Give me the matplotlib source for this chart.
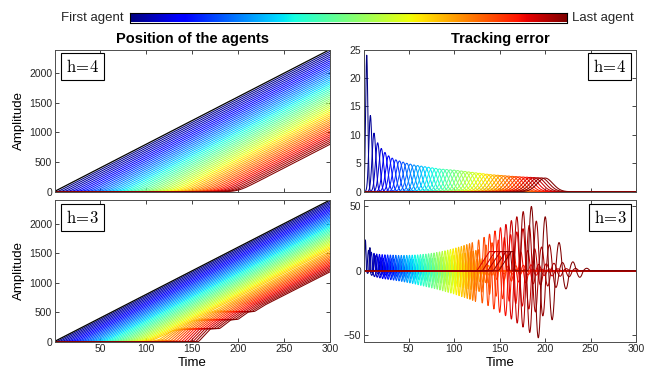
import numpy as np
import matplotlib
matplotlib.use('Agg')
import matplotlib.pyplot as plt

plt.rcParams['font.family'] = ['Liberation Sans', 'DejaVu Sans']
plt.rcParams['mathtext.fontset'] = 'cm'

# ---------------- data ----------------
n_agents = 50
headways = [4, 3]                 # h of top row / bottom row
leader_speed = 8                  # leader: 0 -> 2400 over the time span
t_first, t_last = 1, 300

x_ticks = [50, 100, 150, 200, 250, 300]
pos_yticks = [0, 500, 1000, 1500, 2000]
err_yticks_h4 = [0, 5, 10, 15, 20, 25]
err_yticks_h3 = [-50, 0, 50]

# h=4 : peak value of each agent's tracking-error pulse (agent 1 .. 50)
err_peak_h4 = [24.0, 13.4, 10.3, 8.6, 7.6, 6.9, 6.3, 5.9, 5.6, 5.4,
               5.2, 5.0, 4.85, 4.7, 4.6, 4.5, 4.4, 4.3, 4.2, 4.1,
               4.0, 3.95, 3.9, 3.85, 3.8, 3.72, 3.64, 3.56, 3.48, 3.4,
               3.32, 3.24, 3.16, 3.08, 3.0, 2.95, 2.9, 2.85, 2.8, 2.75,
               2.7, 2.66, 2.62, 2.58, 2.55, 2.52, 2.49, 2.46, 2.43, 2.4]

# h=3 : positive / negative lobe of agents 1 .. 40
err_pos_h3 = [24, 16, 14.5, 13.6, 13.1, 12.8, 12.6, 12.5, 12.4, 12.3,
              12.2, 12.1, 12.0, 12.0, 12.0, 12.0, 12.1, 12.2, 12.3, 12.4,
              12.6, 12.8, 13.0, 13.3, 13.6, 13.9, 14.3, 14.7, 15.1, 15.6,
              16.1, 16.6, 17.2, 17.8, 18.4, 19.0, 19.7, 20.4, 21.1, 21.9]
err_neg_h3 = [2.0, 3.5, 4.5, 5.0, 5.5, 6.0, 6.3, 6.6, 6.9, 7.2,
              7.5, 7.8, 8.2, 8.6, 9.0, 9.4, 9.8, 10.3, 10.8, 11.3,
              11.8, 12.3, 12.8, 13.3, 13.8, 14.3, 14.9, 15.5, 16.1, 16.7,
              17.3, 17.9, 18.6, 19.3, 20.0, 20.7, 21.4, 22.1, 22.9, 23.7]
# relative size of the successive lobes of one agent's oscillation
main_lobe_ratio = [1.0, 1.0, 0.75, 0.7, 0.45, 0.4, 0.2, 0.15]

# h=3 : last ten agents (41 .. 50), oscillating after being stuck
late_first_peak_t = [127, 133, 139, 145, 151, 157, 163, 169, 176, 185]
late_first_peak_v = [24, 26, 28.5, 31, 33.5, 36, 39, 42, 46, 50]
late_half_period = [4.0, 4.4, 4.8, 5.2, 5.6, 6.0, 6.4, 6.8, 7.2, 7.6]
late_lobe_ratio = [1.0, -1.04, 0.84, -0.76, 0.44, -0.28, 0.14, -0.10, 0.04]

# h=3 : error ramps of the stuck agents
ramp_agents = [46, 47, 48, 49, 50]
ramp_start = [125, 131, 137, 143, 149]
ramp_top_t = [139, 145, 151, 157, 163]
ramp_end = [153, 156, 159, 162, 165]
ramp_level = 15

# h=3 : staircase of the last agent's position (time, amplitude)
stair_t = [1, 157, 170, 180, 192, 200, 211, 218, 229, 300]
stair_x = [0, 0, 218, 222, 368, 378, 502, 512, 620, 1184]
stair_first_agent = 36
stair_blend = [0.3, 0.4, 0.5, 0.6, 0.7, 0.75, 0.8, 0.85,
               0.9, 0.92, 0.94, 0.96, 0.98, 1.0, 1.0]  # agents 36..50

# ---------------- helpers ----------------
t = np.linspace(t_first, t_last, 1197)
colors = plt.get_cmap('jet')(np.linspace(0, 1, n_agents))


def softramp(z, w):
    return w * np.logaddexp(0, z / w)


def lobes(tt, start, half, amps):
    e = np.zeros_like(tt)
    for k, a in enumerate(amps):
        s = start + k * half
        m = (tt >= s) & (tt <= s + half)
        e[m] += a * np.sin(np.pi * (tt[m] - s) / half)
    return e


def smooth(y, n):
    k = np.ones(n) / n
    yp = np.concatenate([np.full(n, y[0]), y, np.full(n, y[-1])])
    return np.convolve(yp, k, mode='same')[n:-n]


def staircase(tt):
    y = np.interp(tt, stair_t, stair_x)
    past = tt > stair_t[-1]
    y[past] = stair_x[-1] + leader_speed * (tt[past] - stair_t[-1])
    return y


lw = 0.75
spine_col = '0.3'

fig = plt.figure(figsize=(6.45, 3.76), dpi=100)
W, H = 645.0, 376.0
axTL = fig.add_axes([55 / W, 1 - 191.7 / H, 275 / W, 142.2 / H])
axTR = fig.add_axes([364 / W, 1 - 191.7 / H, 272 / W, 142.2 / H])
axBL = fig.add_axes([55 / W, 1 - 341.7 / H, 275 / W, 141.7 / H])
axBR = fig.add_axes([364 / W, 1 - 341.7 / H, 272 / W, 141.7 / H])

# ----- positions h=4 -----
h = headways[0]
for i in range(1, n_agents + 1):
    x = leader_speed * softramp(t - h * i, 0.5 + 0.6 * np.sqrt(i))
    axTL.plot(t, x, color=colors[i - 1], lw=lw)
axTL.plot(t, leader_speed * t, color='k', lw=0.9)

# ----- errors h=4 -----
for i in range(1, n_agents + 1):
    sig = 1.2 * np.sqrt(i)
    e = err_peak_h4[i - 1] * np.exp(-0.5 * ((t - h * i) / sig) ** 2)
    axTR.plot(t, e, color=colors[i - 1], lw=lw)

# ----- positions h=3 -----
h = headways[1]
for i in range(1, n_agents + 1):
    base = leader_speed * softramp(t - h * i, 0.5 + 0.5 * np.sqrt(i))
    if i >= stair_first_agent:
        b = stair_blend[i - stair_first_agent]
        st = smooth(staircase(t + (n_agents - i) * h), 9)
        x = (1 - b) * base + b * st
    else:
        x = base
    axBL.plot(t, x, color=colors[i - 1], lw=lw)
axBL.plot(t, leader_speed * t, color='k', lw=0.9)

# ----- errors h=3 -----
for i in range(1, n_agents + 1):
    if i <= 40:
        half = 2.5 if i == 1 else 3.5
        c = 2.5 if i == 1 else h * i
        P, N = err_pos_h3[i - 1], err_neg_h3[i - 1]
        amps = []
        for k, r in enumerate(main_lobe_ratio):
            amps.append(P * r if k % 2 == 0 else -N * r)
        e = lobes(t, c - half / 2, half, amps)
    else:
        j = i - 41
        half = late_half_period[j]
        amps = [late_first_peak_v[j] * r for r in late_lobe_ratio]
        e = lobes(t, late_first_peak_t[j] - half / 2, half, amps)
        if i in ramp_agents:
            k = ramp_agents.index(i)
            r = np.interp(t, [ramp_start[k], ramp_top_t[k], ramp_end[k], ramp_end[k] + 2],
                          [0, ramp_level, ramp_level, 0], left=0, right=0)
            e = e + r
    axBR.plot(t, e, color=colors[i - 1], lw=lw)

# ----- axes styling -----
for ax in (axTL, axTR, axBL, axBR):
    ax.set_xlim(t_first, t_last)
    ax.set_xticks(x_ticks)
    ax.tick_params(direction='in', top=True, right=True, length=3, width=0.6,
                   labelsize=7.5, colors='0.15', pad=2)
    for s in ax.spines.values():
        s.set_color(spine_col)
        s.set_linewidth(0.7)

for ax in (axTL, axTR):
    ax.set_xticklabels([])

axTL.set_ylim(0, 2400)
axBL.set_ylim(0, 2400)
axTL.set_yticks(pos_yticks)
axBL.set_yticks(pos_yticks)
axTR.set_ylim(0, 25)
axTR.set_yticks(err_yticks_h4)
axBR.set_ylim(-55, 55)
axBR.set_yticks(err_yticks_h3)

for ax in (axTL, axBL):
    ax.set_ylabel('Amplitude', fontsize=9.5, labelpad=3)
for ax in (axBL, axBR):
    ax.set_xlabel('Time', fontsize=9.5, labelpad=2)

axTL.set_title('Position of the agents', fontsize=10.5, fontweight='bold', pad=5)
axTR.set_title('Tracking error', fontsize=10.5, fontweight='bold', pad=5)

box = dict(boxstyle='square,pad=0.3', fc='white', ec='black', lw=0.8)
for ax, lab in ((axTL, 4), (axBL, 3)):
    ax.text(0.04, 0.94, r'$\mathrm{h}\!=\!%d$' % lab, transform=ax.transAxes,
            ha='left', va='top', fontsize=12, bbox=box, zorder=10)
for ax, lab in ((axTR, 4), (axBR, 3)):
    ax.text(0.965, 0.94, r'$\mathrm{h}\!=\!%d$' % lab, transform=ax.transAxes,
            ha='right', va='top', fontsize=12, bbox=box, zorder=10)

# ----- colour bar on top -----
cax = fig.add_axes([130 / W, 1 - 22.5 / H, 437 / W, 10 / H])
cax.imshow(np.linspace(0, 1, 256)[None, :], aspect='auto', cmap='jet')
cax.set_xticks([])
cax.set_yticks([])
for s in cax.spines.values():
    s.set_color('k')
    s.set_linewidth(0.8)
fig.text(124 / W, 1 - 17.5 / H, 'First agent', ha='right', va='center', fontsize=9.5, color='0.15')
fig.text(572 / W, 1 - 17.5 / H, 'Last agent', ha='left', va='center', fontsize=9.5, color='0.15')

fig.savefig('out.png', dpi=100)
